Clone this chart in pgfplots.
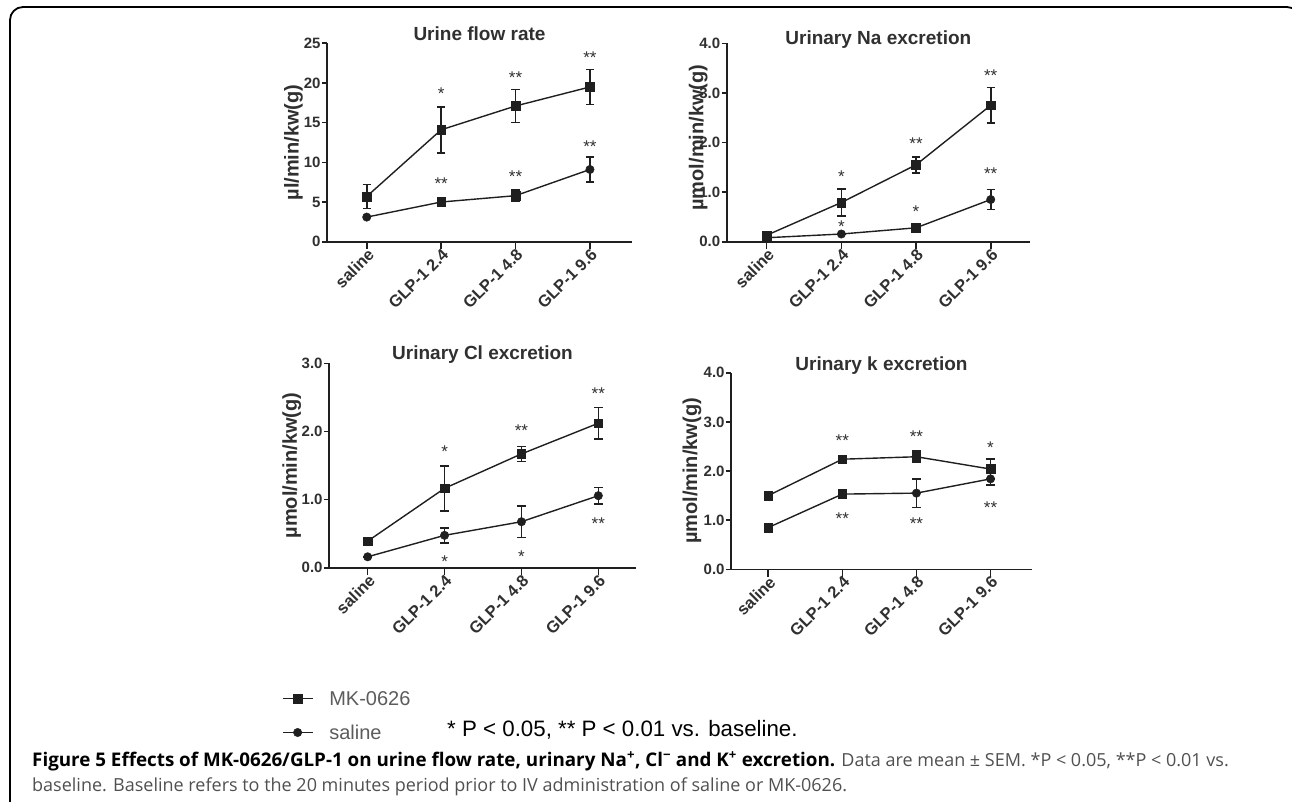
\documentclass[border=0pt]{standalone}
\usepackage{fontspec}
\setmainfont{Liberation Sans}
\newfontfamily\capfont{Open Sans}
\usepackage{pgfplots}
\pgfplotsset{compat=1.18}

\definecolor{ink}{HTML}{1F1F1F}
\definecolor{txt}{HTML}{303030}
\definecolor{leg}{HTML}{5C5C5C}
\definecolor{capgray}{HTML}{505050}

\tikzset{sig/.style={font=\fontsize{17}{17}\selectfont, text=txt, anchor=base, inner sep=0pt, yshift=-9.5pt}}

\pgfplotsset{
  every axis title shift=0pt,
  panel/.style={
    scale only axis,
    anchor=south west,
    axis x line*=bottom,
    axis y line*=left,
    axis line style={-, ink, line width=1.6pt},
    tick align=outside,
    xtick style={ink, line width=1.6pt, /pgfplots/major tick length=7.5pt},
    ytick style={ink, line width=1.6pt, /pgfplots/major tick length=5pt},
    /pgf/number format/assume math mode=true,
    ymin=0,
    xtick={0,1,2,3},
    xticklabels={saline, GLP-1 2.4, GLP-1 4.8, GLP-1 9.6},
    xticklabel style={rotate=45, anchor=north east, inner sep=1pt,
      font=\fontsize{16.5}{16.5}\selectfont\bfseries, text=txt},
    yticklabel style={inner sep=1pt, xshift=-1pt,
      font=\fontsize{15}{15}\selectfont\bfseries, text=txt},
    title style={font=\fontsize{19}{19}\selectfont\bfseries, text=txt, anchor=base},
    ylabel style={font=\fontsize{20}{20}\selectfont\bfseries, text=txt, anchor=center},
    error bars/y dir=both,
    error bars/y explicit,
    error bars/error bar style={line width=1.6pt, ink},
    error bars/error mark options={rotate=90, mark size=4.2pt, line width=1.6pt, ink},
  },
  mk/.style={ink, line width=1.4pt, mark=square*, mark size=4.3pt, mark options={fill=ink, draw=ink, line width=0.5pt}},
  sal/.style={ink, line width=1.4pt, mark=*, mark size=4.2pt, mark options={fill=ink, draw=ink, line width=0.5pt}},
  % saline series whose marks switch between circles (c) and squares (s), as in the source figure
  salmix/.style={sal, scatter, scatter src=explicit symbolic,
    scatter/classes={c={mark=*, mark size=4.2pt, ink}, s={mark=square*, mark size=4.3pt, ink}}},
  decimal/.style={yticklabel style={/pgf/number format/.cd, fixed, fixed zerofill, precision=1}},
}

\begin{document}
\begin{tikzpicture}
\useasboundingbox (0pt,0pt) rectangle (1292pt,-802pt);
\draw[line width=1.8pt, rounded corners=13pt] (10pt,-840pt) -- (10pt,-7pt) -- (1300pt,-7pt) -- (1300pt,-840pt);

% Urine flow rate
\begin{axis}[panel, at={(327pt,-241.7pt)}, width=305pt, height=198.4pt,
  xmin=-0.534, xmax=3.565, ymax=25, ytick={0,5,...,25},
  title={Urine flow rate}, title style={yshift=3pt},
  ylabel={µl/min/kw(g)}, ylabel style={at={(axis description cs:-0.110,0.5)}}]
\addplot[mk] coordinates {(0,5.7) +- (0,1.5) (1,14.1) +- (0,2.9) (2,17.1) +- (0,2.1) (3,19.5) +- (0,2.2)};
\addplot[salmix] coordinates {(0,3.1) +- (0,0) [c] (1,5.0) +- (0,0.3) [s] (2,5.8) +- (0,0.7) [s] (3,9.1) +- (0,1.6) [c]};
\node[sig] at (axis cs:1,19.1) {*};
\node[sig] at (axis cs:2,21.1) {**};
\node[sig] at (axis cs:3,23.7) {**};
\node[sig] at (axis cs:1,7.8) {**};
\node[sig] at (axis cs:2,8.6) {**};
\node[sig] at (axis cs:3,12.4) {**};
\end{axis}

% Urinary Na excretion
\begin{axis}[panel, decimal, at={(726.7pt,-241.7pt)}, width=303.3pt, height=198.4pt,
  xmin=-0.535, xmax=3.526, ymax=4, ytick={0,1,...,4},
  title={Urinary Na excretion}, title style={yshift=-1pt},
  ylabel={µmol/min/kw(g)}, ylabel style={at={(axis description cs:-0.094,0.525)}}]
\addplot[mk] coordinates {(0,0.13) +- (0,0) (1,0.79) +- (0,0.27) (2,1.55) +- (0,0.16) (3,2.75) +- (0,0.36)};
\addplot[salmix] coordinates {(0,0.08) +- (0,0) [s] (1,0.155) +- (0,0) [c] (2,0.28) +- (0,0.07) [s] (3,0.85) +- (0,0.2) [c]};
\node[sig] at (axis cs:1,1.38) {*};
\node[sig] at (axis cs:2,2.06) {**};
\node[sig] at (axis cs:3,3.43) {**};
\node[sig] at (axis cs:1,0.38) {*};
\node[sig] at (axis cs:2,0.67) {*};
\node[sig] at (axis cs:3,1.45) {**};
\end{axis}

% Urinary Cl excretion (carries the legend)
\begin{axis}[panel, decimal, at={(329pt,-567.7pt)}, width=307pt, height=204.4pt,
  xmin=-0.503, xmax=3.49, ymax=3, ytick={0,1,...,3},
  title={Urinary Cl excretion}, title style={yshift=4pt},
  ylabel={µmol/min/kw(g)}, ylabel style={at={(axis description cs:-0.121,0.5)}},
  legend style={at={(axis description cs:-0.154,-0.60)}, anchor=north west,
    draw=none, fill=none, inner sep=0pt, row sep=16pt,
    font=\fontsize{20}{20}\selectfont, text=leg,
    nodes={inner sep=1pt, anchor=base west}},
  legend cell align=left,
  legend image code/.code={\draw[mark repeat=2, mark phase=2, #1] plot coordinates {(0pt,7pt) (15pt,7pt) (30pt,7pt)};}]
\addplot[mk] coordinates {(0,0.39) +- (0,0) (1,1.165) +- (0,0.33) (2,1.67) +- (0,0.11) (3,2.12) +- (0,0.23)};
\addlegendentry{\hspace{15pt}MK-0626}
\addplot[sal] coordinates {(0,0.16) +- (0,0) (1,0.475) +- (0,0.11) (2,0.675) +- (0,0.23) (3,1.057) +- (0,0.12)};
\addlegendentry{\hspace{15pt}saline}
\node[sig] at (axis cs:1,1.75) {*};
\node[sig] at (axis cs:2,2.06) {**};
\node[sig] at (axis cs:3,2.61) {**};
\node[sig] at (axis cs:1,0.137) {*};
\node[sig] at (axis cs:2,0.21) {*};
\node[sig] at (axis cs:3,0.70) {**};
\end{axis}

% Urinary k excretion
\begin{axis}[panel, decimal, at={(731pt,-569.3pt)}, width=301pt, height=196.6pt,
  xmin=-0.503, xmax=3.56, ymax=4, ytick={0,1,...,4},
  title={Urinary k excretion}, title style={yshift=2.7pt},
  ylabel={µmol/min/kw(g)}, ylabel style={at={(axis description cs:-0.13,0.5)}}]
\addplot[mk] coordinates {(0,1.50) +- (0,0) (1,2.24) +- (0,0.06) (2,2.29) +- (0,0.12) (3,2.04) +- (0,0.2)};
\addplot[salmix] coordinates {(0,0.85) +- (0,0) [s] (1,1.53) +- (0,0.08) [s] (2,1.55) +- (0,0.29) [c] (3,1.84) +- (0,0.13) [c]};
\node[sig] at (axis cs:1,2.70) {**};
\node[sig] at (axis cs:2,2.77) {**};
\node[sig] at (axis cs:3,2.55) {*};
\node[sig] at (axis cs:1,1.10) {**};
\node[sig] at (axis cs:2,1.00) {**};
\node[sig] at (axis cs:3,1.32) {**};
\end{axis}

\node[anchor=base west, inner sep=0pt, font=\fontsize{22.3}{22.3}\selectfont]
  at (447pt,-736.7pt) {* P < 0.05, ** P < 0.01 vs. baseline.};

\node[anchor=base west, inner sep=0pt, font=\capfont\fontsize{18}{18}\selectfont]
  at (32pt,-766pt) {{\fontsize{18.8}{18.8}\selectfont\bfseries Figure 5 Effects of MK-0626/GLP-1 on urine flow rate, urinary Na\textsuperscript{+}, Cl\textsuperscript{−} and K\textsuperscript{+} excretion.} {\color{capgray}Data are mean ± SEM. *P < 0.05, **P < 0.01 vs.}};
\node[anchor=base west, inner sep=0pt, font=\capfont\fontsize{18}{18}\selectfont, text=capgray]
  at (32pt,-791pt) {baseline. Baseline refers to the 20 minutes period prior to IV administration of saline or MK-0626.};
\end{tikzpicture}
\end{document}
